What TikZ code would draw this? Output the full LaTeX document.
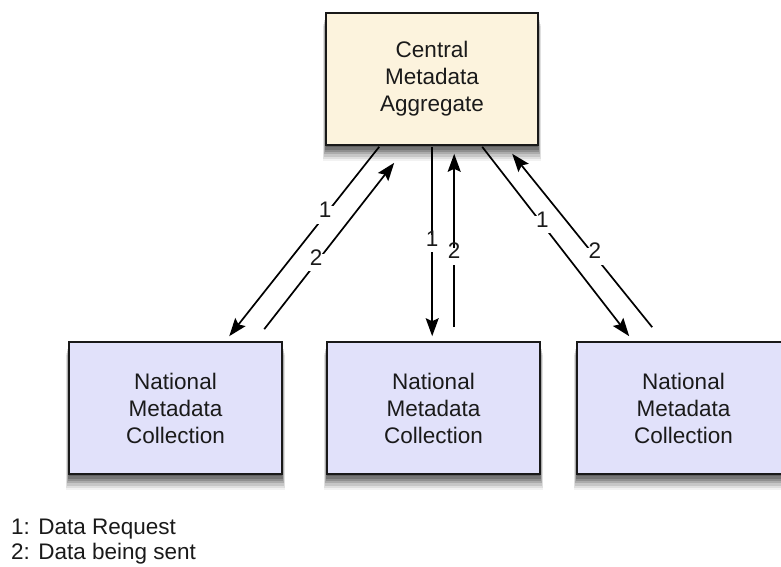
\documentclass[tikz,border=0pt]{standalone}
\usepackage{fontspec}
\setmainfont{Liberation Sans}
\usetikzlibrary{arrows.meta,calc,shadows}
\definecolor{cream}{RGB}{252,243,221}
\definecolor{lav}{RGB}{225,225,250}
\definecolor{txt}{RGB}{26,26,26}
\tikzset{
 softshadow/.style={
   general shadow={fill=black,opacity=.18,shadow yshift=-2pt,shadow scale=1.004},
   general shadow={fill=black,opacity=.18,shadow yshift=-4pt,shadow scale=1.008},
   general shadow={fill=black,opacity=.16,shadow yshift=-6pt,shadow scale=1.012},
   general shadow={fill=black,opacity=.14,shadow yshift=-8pt,shadow scale=1.016},
   general shadow={fill=black,opacity=.11,shadow yshift=-10pt,shadow scale=1.02},
   general shadow={fill=black,opacity=.08,shadow yshift=-12pt,shadow scale=1.024},
   general shadow={fill=black,opacity=.05,shadow yshift=-14pt,shadow scale=1.028}},
 box/.style={draw=black!90, line width=1.6pt, minimum width=213pt, minimum height=132pt,
   align=center, font=\fontsize{22.5}{27}\selectfont, text=txt, softshadow},
 central/.style={box, fill=cream, minimum width=212pt},
 national/.style={box, fill=lav},
 flow/.style={line width=1.7pt, -{Stealth[length=18pt,width=13pt,inset=3pt]}},
 num/.style={fill=white, inner sep=4pt, font=\fontsize{22.5}{27}\selectfont, text=txt,
   text height=0.72em, text depth=0.2em},
 legend/.style={anchor=base west, inner sep=0pt, font=\fontsize{22.5}{27}\selectfont, text=txt}
}
\begin{document}
\begin{tikzpicture}[x=1pt,y=-1pt]
\useasboundingbox (0,0) rectangle (781,566);
\node[central] (C) at (432,79) {Central\\Metadata\\Aggregate};
\node[national] (L) at (175.5,408) {National\\Metadata\\Collection};
\node[national] (M) at (433.5,408) {National\\Metadata\\Collection};
\node[national] (R) at (683.5,408) {National\\Metadata\\Collection};

\draw[flow] ($(C.south west)+(54,1)$) -- node[num,pos=0.36] (n1) {1} ($(L.north west)+(161,-5)$);
\draw[flow] ($(L.north west)+(196,-12)$) -- node[num,pos=0.40] (n2) {2} ($(C.south west)+(69,17)$);
\draw[flow] ($(C.south west)+(107,1)$) -- node[num,pos=0.51] (n3) {1} ($(M.north west)+(106,-5)$);
\draw[flow] ($(M.north west)+(128,-14)$) -- node[num,pos=0.41] (n4) {2} ($(C.south west)+(129,8)$);
\draw[flow] ($(C.south west)+(157,1)$) -- node[num,pos=0.41] (n5) {1} ($(R.north west)+(53,-5)$);
\draw[flow] ($(R.north west)+(76,-14)$) -- node[num,pos=0.41] (n6) {2} ($(C.south west)+(187,8)$);

\node[legend] (k1) at (11,534) {1: Data Request};
\node[legend] (k2) at (11,559) {2: Data being sent};
\end{tikzpicture}
\end{document}
